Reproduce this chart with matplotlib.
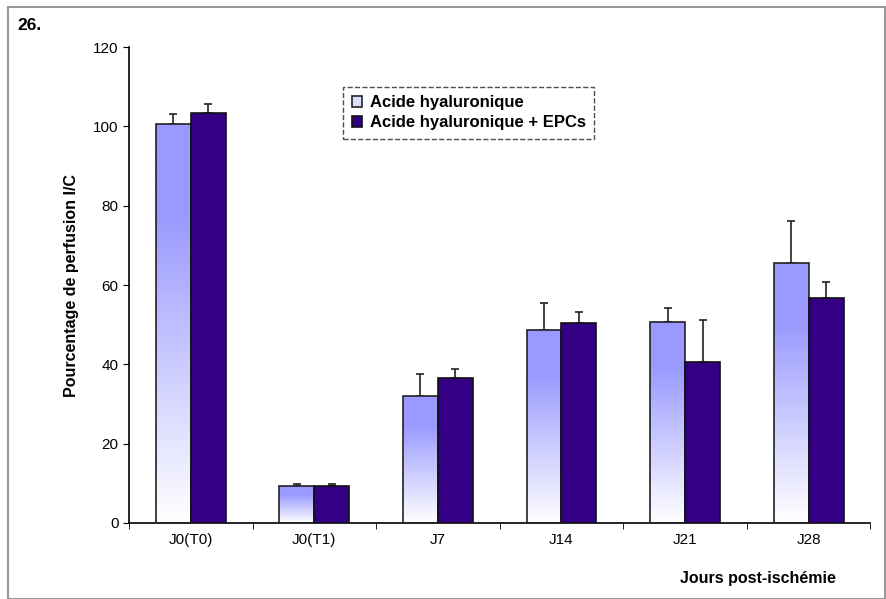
import numpy as np
import matplotlib.pyplot as plt
from matplotlib.patches import Rectangle
from matplotlib.colors import LinearSegmentedColormap

plt.rcParams['font.family'] = ['Liberation Sans', 'DejaVu Sans']

days = ['J0(T0)', 'J0(T1)', 'J7', 'J14', 'J21', 'J28']
ha_mean = [100.5, 9.2, 32.0, 48.6, 50.6, 65.5]
ha_err = [2.5, 0.6, 5.6, 6.9, 3.7, 10.6]
epc_mean = [103.3, 9.2, 36.6, 50.3, 40.5, 56.7]
epc_err = [2.4, 0.6, 2.1, 2.8, 10.6, 4.1]

fig = plt.figure(figsize=(8.86, 5.99), dpi=100)
ax = fig.add_axes([0.1456, 0.1269, 0.9824 - 0.1456, 0.9215 - 0.1269])

# outer frame
fig.add_artist(Rectangle((0.009, 0.0), 0.99, 0.988, transform=fig.transFigure,
                         fill=False, edgecolor='#999999', lw=1.5))

x = np.arange(len(days))
w = 0.283
grad = LinearSegmentedColormap.from_list('g', ['#ffffff', '#9999ff'])

bars1 = ax.bar(x - w / 2, ha_mean, w, facecolor='none', edgecolor='#222222',
               lw=1.2, zorder=3, label='Acide hyaluronique')
for b in bars1:
    bx, by = b.get_x(), b.get_y()
    bw, bh = b.get_width(), b.get_height()
    t = np.clip(np.linspace(0, 1, 256) / 0.78, 0, 1).reshape(-1, 1)
    im = ax.imshow(t, cmap=grad, vmin=0, vmax=1,
                   extent=[bx, bx + bw, by, by + bh], origin='lower',
                   aspect='auto', zorder=2)
    im.set_clip_path(b)
bars2 = ax.bar(x + w / 2, epc_mean, w, color='#330085', edgecolor='#111111',
               lw=1.2, zorder=3, label='Acide hyaluronique + EPCs')

ax.errorbar(x - w / 2, ha_mean, yerr=[np.zeros(6), ha_err], fmt='none',
            ecolor='#222222', elinewidth=1.2, capsize=3, capthick=1.2, zorder=1)
ax.errorbar(x + w / 2, epc_mean, yerr=[np.zeros(6), epc_err], fmt='none',
            ecolor='#222222', elinewidth=1.2, capsize=3, capthick=1.2, zorder=1)

ax.set_xlim(-0.5, 5.5)
ax.set_ylim(0, 120)
ax.set_yticks(range(0, 121, 20))
ax.set_xticks(x)
ax.set_xticklabels(days, fontsize=11)
ax.set_xticks(np.arange(-0.5, 6, 1), minor=True)
ax.tick_params(axis='x', which='major', length=0, pad=7)
ax.tick_params(axis='x', which='minor', length=4, direction='out')
ax.tick_params(axis='y', length=4, labelsize=11)
for s in ['top', 'right']:
    ax.spines[s].set_visible(False)
for s in ['left', 'bottom']:
    ax.spines[s].set_linewidth(1.2)

ax.set_ylabel('Pourcentage de perfusion I/C', fontsize=11.5, fontweight='bold',
              labelpad=10)
fig.text(0.943, 0.035, 'Jours post-ischémie', fontsize=11.5, fontweight='bold',
         ha='right', va='center')
fig.text(0.02, 0.958, '26.', fontsize=12.5, fontweight='bold', ha='left',
         va='center')

leg = ax.legend(loc='upper left', bbox_to_anchor=(0.289, 0.916),
                borderaxespad=0, prop={'weight': 'bold', 'size': 12},
                frameon=True, fancybox=False, handlelength=0.6,
                handleheight=0.6, handletextpad=0.5, borderpad=0.5,
                labelspacing=0.3)
leg.get_frame().set_edgecolor('#222222')
leg.get_frame().set_linestyle('--')
leg.get_frame().set_linewidth(1.0)
leg.legend_handles[0].set_facecolor('#ddddff')

fig.savefig('out.png', dpi=100)
